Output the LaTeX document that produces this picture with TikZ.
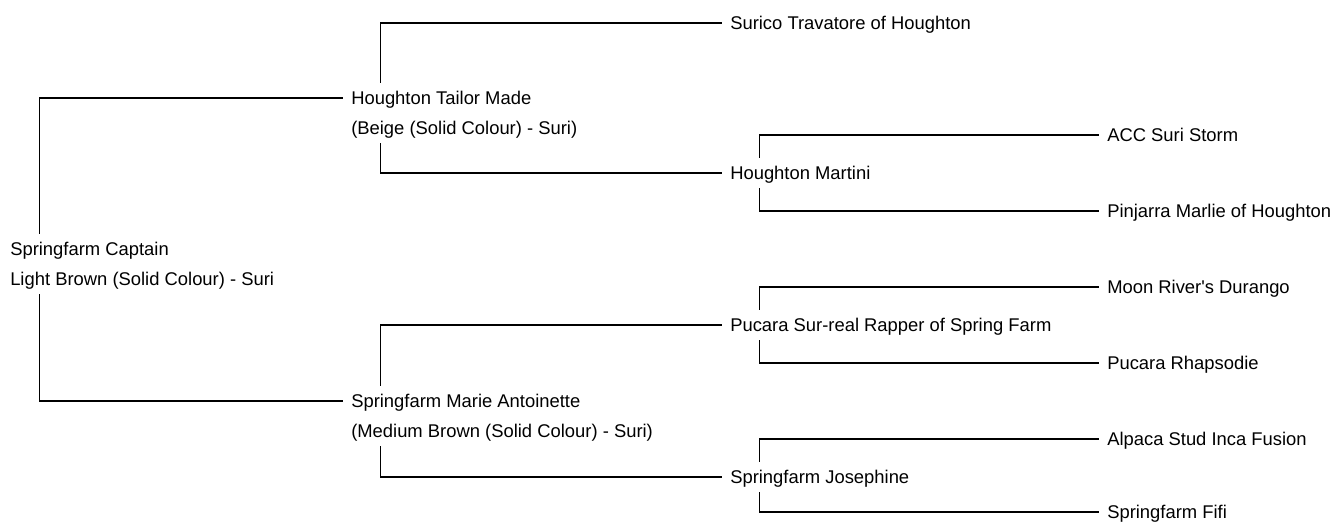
\documentclass[tikz,border=0pt]{standalone}
\usepackage{fontspec}
\setmainfont{Liberation Sans}
\usepackage{tikz}
\tikzstyle{animal}=[anchor=west,inner xsep=6pt,inner ysep=6.3pt,text height=9.9pt,text depth=0pt,text=black,font=\fontsize{13.8}{16}\selectfont]
\tikzstyle{pedline}=[draw=black,line width=0.9pt]

\begin{document}
\begin{tikzpicture}[x=0.75pt,y=-0.75pt]
\useasboundingbox (0,0) rectangle (1336,522);
% the animal
\node[animal] (captain) at (2,249) {Springfarm Captain};
\node[animal] (captaincol) at (2,279) {Light Brown (Solid Colour) - Suri};
% parents
\node[animal] (tailor) at (343,98) {Houghton Tailor Made};
\node[animal] (tailorcol) at (343,128) {(Beige (Solid Colour) - Suri)};
\node[animal] (marie) at (343,401) {Springfarm Marie Antoinette};
\node[animal] (mariecol) at (343,431) {(Medium Brown (Solid Colour) - Suri)};
% grandparents
\node[animal] (surico) at (722,23) {Surico Travatore of Houghton};
\node[animal] (martini) at (722,173) {Houghton Martini};
\node[animal] (pucara) at (722,325) {Pucara Sur-real Rapper of Spring Farm};
\node[animal] (josephine) at (722,477) {Springfarm Josephine};
% great-grandparents
\node[animal] (acc) at (1099,135) {ACC Suri Storm};
\node[animal] (pinjarra) at (1099,211) {Pinjarra Marlie of Houghton};
\node[animal] (moon) at (1099,287) {Moon River\textquotesingle s Durango};
\node[animal] (rhapsodie) at (1099,363) {Pucara Rhapsodie};
\node[animal] (alpaca) at (1099,439) {Alpaca Stud Inca Fusion};
\node[animal] (fifi) at (1099,512) {Springfarm Fifi};
% sire lines go up, dam lines go down
\draw[pedline] ([xshift=28pt]captain.north west) |- (tailor.west);
\draw[pedline] ([xshift=28pt]captaincol.south west) |- (marie.west);
\draw[pedline] ([xshift=28pt]tailor.north west) |- (surico.west);
\draw[pedline] ([xshift=28pt]tailorcol.south west) |- (martini.west);
\draw[pedline] ([xshift=28pt]marie.north west) |- (pucara.west);
\draw[pedline] ([xshift=28pt]mariecol.south west) |- (josephine.west);
\draw[pedline] ([xshift=28pt]martini.north west) |- (acc.west);
\draw[pedline] ([xshift=28pt]martini.south west) |- (pinjarra.west);
\draw[pedline] ([xshift=28pt]pucara.north west) |- (moon.west);
\draw[pedline] ([xshift=28pt]pucara.south west) |- (rhapsodie.west);
\draw[pedline] ([xshift=28pt]josephine.north west) |- (alpaca.west);
\draw[pedline] ([xshift=28pt]josephine.south west) |- (fifi.west);
\end{tikzpicture}
\end{document}
